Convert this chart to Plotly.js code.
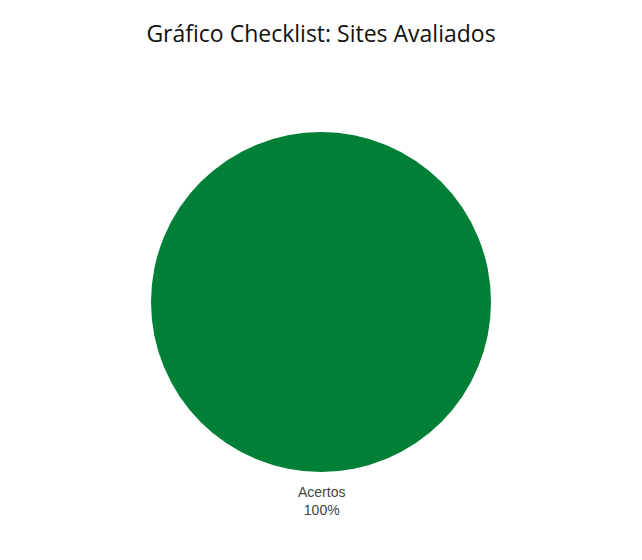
<!DOCTYPE html>
<html>
<head>
<meta charset="utf-8">
<script src="https://cdn.plot.ly/plotly-3.0.1.min.js"></script>
<style>html,body{margin:0;padding:0;background:#fff;}#chart{width:642px;height:560px;}</style>
</head>
<body>
<div id="chart"></div>
<script>
const labels = ["Acertos"];
const values = [100];
const colors = ["#007F37"];

const total = values.reduce((a, b) => a + b, 0);
const labelTexts = labels.map((l, i) => l + "<br>" + Math.round(values[i] / total * 100) + "%");

const data = [{
  type: "pie",
  labels: labels,
  values: values,
  marker: {colors: colors, line: {width: 0}},
  textinfo: "none",
  textposition: "none",
  sort: false,
  hoverinfo: "none",
  showlegend: false
}];

const layout = {
  width: 642,
  height: 560,
  paper_bgcolor: "#ffffff",
  plot_bgcolor: "#ffffff",
  margin: {l: 0, r: 0, t: 132, b: 88},
  title: {
    text: "Gráfico Checklist: Sites Avaliados",
    font: {family: "Open Sans, sans-serif", size: 23, color: "#111111", weight: 500},
    x: 0.5, xanchor: "center", y: 0.94, yanchor: "middle"
  },
  annotations: labelTexts.map(t => ({
    text: t,
    xref: "paper", yref: "paper",
    x: 0.5, y: -0.03,
    xanchor: "center", yanchor: "top",
    showarrow: false,
    font: {family: "Liberation Sans, Arial, sans-serif", size: 14, color: "#444444"}
  })),
  showlegend: false
};

Plotly.newPlot("chart", data, layout, {displayModeBar: false, staticPlot: true});
</script>
</body>
</html>
